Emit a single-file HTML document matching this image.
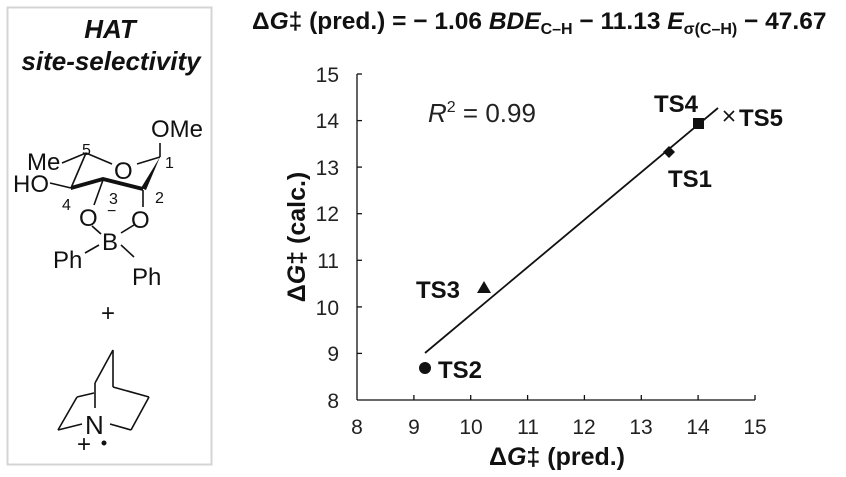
<!DOCTYPE html>
<html><head><meta charset="utf-8"><style>
body{margin:0;background:#fff;width:846px;height:472px;overflow:hidden;font-family:"Liberation Sans",Arial,sans-serif}
</style></head><body>
<svg width="846" height="472" viewBox="0 0 846 472" xmlns="http://www.w3.org/2000/svg" font-family="Liberation Sans, Arial, sans-serif">
<rect x="7.5" y="7.5" width="204" height="457" fill="none" stroke="#d4d4d4" stroke-width="2"/>
<g font-weight="bold" font-style="italic" font-size="26" text-anchor="middle" fill="#111">
<text x="110" y="38">HAT</text>
<text x="111" y="70">site-selectivity</text>
</g>
<g stroke="#111" stroke-width="1.6" fill="none">
<line x1="62" y1="163" x2="86" y2="153"/>
<line x1="86" y1="153" x2="112" y2="164"/>
<line x1="137" y1="164" x2="160" y2="157"/>
<line x1="160" y1="143" x2="160" y2="157"/>
<line x1="86" y1="153" x2="71" y2="188"/>
<line x1="50" y1="183" x2="71" y2="188"/>
<line x1="103" y1="180" x2="94" y2="205"/>
<line x1="143" y1="190" x2="143" y2="207"/>
<line x1="92" y1="226" x2="101" y2="234"/>
<line x1="134" y1="225" x2="121" y2="233"/>
<line x1="99" y1="245" x2="85" y2="253"/>
<line x1="121" y1="245" x2="134" y2="257"/>
<line x1="113" y1="350" x2="113" y2="387"/>
<line x1="113" y1="387" x2="149" y2="397"/>
<line x1="149" y1="397" x2="131" y2="430"/>
<line x1="131" y1="430" x2="110" y2="424"/>
<line x1="113" y1="350" x2="95" y2="383"/>
<line x1="95" y1="383" x2="95" y2="408"/>
<line x1="82" y1="424" x2="58" y2="430"/>
<line x1="58" y1="430" x2="77" y2="397"/>
<line x1="77" y1="397" x2="94" y2="393"/>
</g>
<g fill="#111">
<polygon points="160,157 141,188 146,190"/>
<polygon points="143,187 103,177 103,181 143,191"/>
<polygon points="103,177 71,186 71,190 103,181"/>
</g>
<g font-size="24" fill="#111">
<text x="151" y="137">OMe</text>
<text x="27" y="170">Me</text>
<text x="114" y="179">O</text>
<text x="13" y="192">HO</text>
<text x="79" y="226">O</text>
<text x="131" y="228">O</text>
<text x="102" y="250">B</text>
<text x="53" y="268">Ph</text>
<text x="132" y="285">Ph</text>
<text x="101" y="321">+</text>
<text x="85" y="434" font-size="26">N</text>
<text x="77" y="452">+</text>
</g>
<circle cx="104" cy="443" r="2.5" fill="#111"/>
<g font-size="16" fill="#111">
<text x="82" y="155">5</text>
<text x="165" y="168">1</text>
<text x="62" y="210">4</text>
<text x="109" y="204">3</text>
<text x="155" y="203">2</text>
<text x="107" y="216">−</text>
</g>
<text x="252" y="29" font-size="24.5" font-weight="bold" fill="#111">Δ<tspan font-style="italic">G</tspan>‡ (pred.) = − 1.06 <tspan font-style="italic">BDE</tspan><tspan font-size="16" dy="5">C–H</tspan><tspan dy="-5"> − 11.13 </tspan><tspan font-style="italic">E</tspan><tspan font-size="16" dy="5">σ(C–H)</tspan><tspan dy="-5"> − 47.67</tspan></text>
<g stroke="#111" stroke-width="1.3">
<line x1="357" y1="74" x2="357" y2="400"/>
<line x1="357" y1="400" x2="755" y2="400"/>
<line x1="357" y1="74" x2="362" y2="74"/><line x1="357" y1="120.6" x2="362" y2="120.6"/><line x1="357" y1="167.1" x2="362" y2="167.1"/><line x1="357" y1="213.7" x2="362" y2="213.7"/><line x1="357" y1="260.3" x2="362" y2="260.3"/><line x1="357" y1="306.9" x2="362" y2="306.9"/><line x1="357" y1="353.4" x2="362" y2="353.4"/>
<line x1="413.9" y1="400" x2="413.9" y2="395"/><line x1="470.7" y1="400" x2="470.7" y2="395"/><line x1="527.6" y1="400" x2="527.6" y2="395"/><line x1="584.4" y1="400" x2="584.4" y2="395"/><line x1="641.3" y1="400" x2="641.3" y2="395"/><line x1="698.1" y1="400" x2="698.1" y2="395"/><line x1="755" y1="400" x2="755" y2="395"/>
<line x1="425" y1="353" x2="718" y2="108" stroke-width="1.8"/>
</g>
<g font-size="21" fill="#222" text-anchor="end">
<text x="339" y="82">15</text><text x="339" y="128">14</text><text x="339" y="175">13</text><text x="339" y="221">12</text><text x="339" y="268">11</text><text x="339" y="315">10</text><text x="339" y="361">9</text><text x="339" y="408">8</text>
</g>
<g font-size="21" fill="#222" text-anchor="middle">
<text x="357" y="434">8</text><text x="414" y="434">9</text><text x="471" y="434">10</text><text x="528" y="434">11</text><text x="584" y="434">12</text><text x="641" y="434">13</text><text x="698" y="434">14</text><text x="755" y="434">15</text>
</g>
<text x="557" y="465" font-size="25" font-weight="bold" text-anchor="middle" fill="#111">Δ<tspan font-style="italic">G</tspan>‡ (pred.)</text>
<text transform="translate(305,237) rotate(-90)" font-size="25" font-weight="bold" text-anchor="middle" fill="#111">Δ<tspan font-style="italic">G</tspan>‡ (calc.)</text>
<text x="428" y="122" font-size="26" fill="#222"><tspan font-style="italic">R</tspan><tspan font-size="16" dy="-10">2</tspan><tspan dy="10"> = 0.99</tspan></text>
<g fill="#111">
<circle cx="425" cy="368" r="6"/>
<polygon points="484,281 491,293 477,293"/>
<polygon points="669,146 675,152 669,158 663,152"/>
<rect x="693" y="118" width="11" height="11"/>
</g>
<g stroke="#111" stroke-width="1.6"><line x1="724" y1="111" x2="734" y2="121"/><line x1="734" y1="111" x2="724" y2="121"/></g>
<g font-size="24" font-weight="bold" fill="#111">
<text x="438" y="378">TS2</text>
<text x="416" y="298">TS3</text>
<text x="668" y="187">TS1</text>
<text x="654" y="112">TS4</text>
<text x="739" y="126">TS5</text>
</g>
</svg>
</body></html>
